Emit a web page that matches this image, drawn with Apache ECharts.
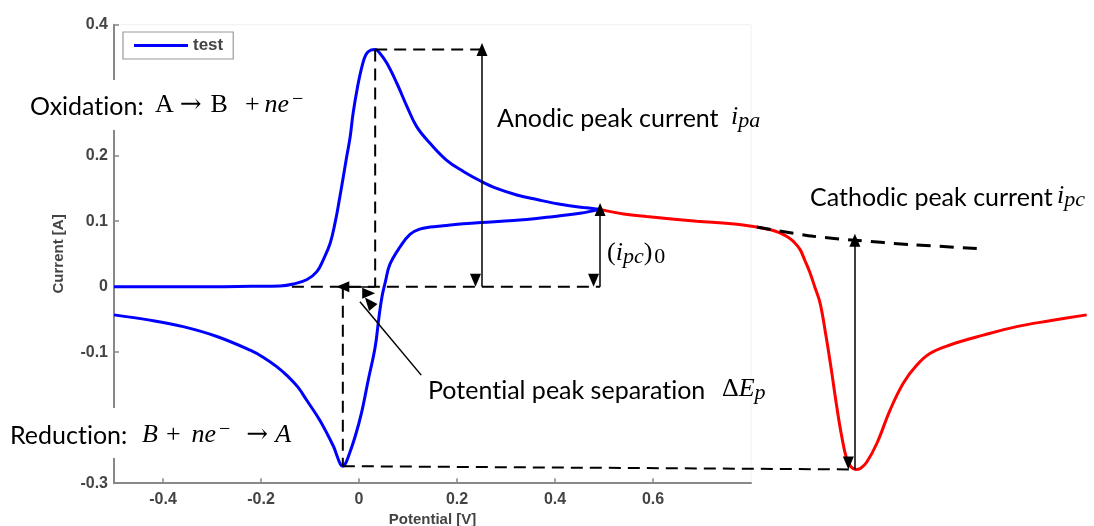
<!DOCTYPE html>
<html>
<head>
<meta charset="utf-8">
<script src="https://cdn.jsdelivr.net/npm/echarts@6/dist/echarts.min.js"></script>
<style>
  html, body { margin: 0; padding: 0; background: #ffffff; }
  #chart { width: 1094px; height: 526px; }
</style>
</head>
<body>
<div id="chart"></div>
<script>
// Cyclic voltammogram: potential [V] vs current [A]

// Oxidation sweep (negative -> positive potential)
const forwardScan = [
  [-0.5, 0], [-0.4, 0], [-0.3, 0], [-0.22, 0.0005], [-0.161, 0.001], [-0.134, 0.004],
  [-0.106, 0.011], [-0.086, 0.023], [-0.073, 0.041], [-0.059, 0.066], [-0.049, 0.097],
  [-0.04, 0.133], [-0.032, 0.168], [-0.025, 0.199], [-0.018, 0.229], [-0.012, 0.265],
  [-0.003, 0.305], [0.006, 0.336], [0.014, 0.354], [0.024, 0.361], [0.033, 0.362],
  [0.043, 0.356], [0.057, 0.341], [0.077, 0.311], [0.098, 0.275], [0.118, 0.244],
  [0.145, 0.219], [0.179, 0.193], [0.213, 0.176], [0.249, 0.161], [0.281, 0.15],
  [0.322, 0.14], [0.363, 0.133], [0.417, 0.125], [0.458, 0.121], [0.492, 0.118]
];

// Reduction sweep (back from the switching potential)
const reverseScan = [
  [0.492, 0.118], [0.451, 0.112], [0.383, 0.106], [0.315, 0.101], [0.249, 0.098],
  [0.213, 0.096], [0.172, 0.093], [0.145, 0.091], [0.124, 0.088], [0.104, 0.08],
  [0.084, 0.061], [0.063, 0.034], [0.054, 0.008], [0.047, -0.015], [0.041, -0.045],
  [0.033, -0.092], [0.019, -0.142], [0.005, -0.193], [-0.008, -0.229], [-0.022, -0.26],
  [-0.029, -0.272], [-0.033, -0.274], [-0.038, -0.271], [-0.045, -0.258], [-0.052, -0.244],
  [-0.08, -0.204], [-0.107, -0.173], [-0.125, -0.153], [-0.145, -0.137], [-0.168, -0.122],
  [-0.195, -0.108], [-0.222, -0.097], [-0.29, -0.076], [-0.359, -0.061], [-0.427, -0.051],
  [-0.5, -0.043]
];

// Sweep continued past the switching potential
const extendedScan = [
  [0.492, 0.118], [0.54, 0.111], [0.587, 0.107], [0.689, 0.1], [0.76, 0.096],
  [0.812, 0.091], [0.84, 0.087], [0.859, 0.082], [0.875, 0.076], [0.888, 0.068],
  [0.9, 0.057], [0.91, 0.04], [0.92, 0.022], [0.93, 0.0], [0.941, -0.025],
  [0.953, -0.075], [0.963, -0.122], [0.975, -0.183], [0.985, -0.228], [0.995, -0.262],
  [1.004, -0.275], [1.014, -0.279], [1.024, -0.277], [1.036, -0.268], [1.057, -0.239],
  [1.084, -0.188], [1.111, -0.147], [1.138, -0.12], [1.165, -0.102], [1.206, -0.089],
  [1.274, -0.074], [1.342, -0.061], [1.41, -0.052], [1.485, -0.043]
];

// Extrapolated decay of the anodic current (cathodic baseline)
const baselineFit = [
  [0.812, 0.091], [0.927, 0.077], [1.012, 0.071], [1.131, 0.064], [1.273, 0.058]
];

const xTickValues = [-0.4, -0.2, 0, 0.2, 0.4, 0.6];

// Dashed construction lines [from, to]
const guideSegments = [
  [[-0.137, 0], [0.492, 0]],
  [[0.033, 0.362], [0.253, 0.362]],
  [[0.033, 0.362], [0.033, 0]],
  [[-0.033, 0], [-0.033, -0.274]],
  [[-0.033, -0.274], [1.014, -0.279]]
];

// Double-headed measurement arrows [from, to]
const measureArrows = [
  [[0.251, 0.362], [0.251, 0]],
  [[0.492, 0.118], [0.492, 0]],
  [[1.012, 0.071], [1.012, -0.279]],
  [[-0.033, 0], [0.033, 0]]
];

// Pointer from the separation label [tail, tip]
const pointerArrow = [[0.127, -0.135], [0.002, -0.023]];

const axisFont = 'Liberation Sans';
const textFont = 'Lato';
const mathFont = 'Liberation Serif';
const arrowFont = 'DejaVu Serif';
const tri = 'path://M5,0 L10,14 L0,14 Z';

const base = { fontFamily: mathFont, fontSize: 26, lineHeight: 30, color: '#000' };
const mathRich = {
  r:     Object.assign({}, base),
  i:     Object.assign({}, base, { fontStyle: 'italic' }),
  arrA:  Object.assign({}, base, { fontFamily: arrowFont, padding: [0, 9, 0, 6] }),
  plusA: Object.assign({}, base, { padding: [0, 5, 0, 17] }),
  plusB: Object.assign({}, base, { padding: [0, 11, 0, 8] }),
  arrB:  Object.assign({}, base, { fontFamily: arrowFont, padding: [0, 7, 0, 16] }),
  sup:   { fontFamily: mathFont, fontSize: 20, lineHeight: 12, verticalAlign: 'top', color: '#000', padding: [0, 0, 0, 3] },
  sub:   { fontFamily: mathFont, fontSize: 22, fontStyle: 'italic', lineHeight: 17, verticalAlign: 'bottom', color: '#000' },
  subr:  { fontFamily: mathFont, fontSize: 22, lineHeight: 17, verticalAlign: 'bottom', color: '#000', padding: [0, 0, 0, 2] }
};

function plainText(x, y, text) {
  return {
    type: 'text', x: x, y: y, z: 100,
    style: {
      text: text, fontFamily: textFont, fontSize: 25, fill: '#000',
      align: 'left', verticalAlign: 'middle'
    }
  };
}
function mathText(x, y, text) {
  return {
    type: 'text', x: x, y: y, z: 100,
    style: { text: text, rich: mathRich, align: 'left', verticalAlign: 'middle', fill: '#000' }
  };
}
// White panel behind a reaction label, masking the axis underneath
function labelPanel(x, y, w, h) {
  return { type: 'rect', z: 99, shape: { x: x, y: y, width: w, height: h }, style: { fill: '#ffffff' } };
}

const tickFmt = v => {
  const r = Math.round(v * 10) / 10;
  return r === 0 ? '0' : String(r);
};

const axisLabelStyle = { fontFamily: axisFont, fontSize: 16, fontWeight: 'bold', color: '#444' };

const guideSeries = guideSegments.map((seg, k) => ({
  name: 'guide' + k, type: 'line', xAxisIndex: 1, yAxisIndex: 1,
  data: seg, symbol: 'none', silent: true, clip: false, z: 4,
  lineStyle: { color: '#000', width: 2, type: [12, 7] }
}));

const scanLine = (name, data, color, z) => ({
  name: name, type: 'line', xAxisIndex: 1, yAxisIndex: 1, data: data,
  symbol: 'none', smooth: 0.4, clip: false, z: z,
  lineStyle: { color: color, width: 3 }, itemStyle: { color: color }
});

const option = {
  animation: false,
  backgroundColor: '#ffffff',
  grid: [
    { left: 114, top: 24.7, width: 637, height: 458.5, show: true, borderColor: '#f0f0f0',
      borderWidth: 1, backgroundColor: 'transparent', outerBoundsMode: 'none', containLabel: false },
    { left: 114, top: 24.7, width: 980, height: 458.5, outerBoundsMode: 'none', containLabel: false }
  ],
  xAxis: [
    {
      gridIndex: 0, type: 'value', min: -0.5, max: 0.8,
      name: 'Potential [V]', nameLocation: 'middle', nameGap: 26,
      nameTextStyle: { fontFamily: axisFont, fontSize: 15, fontWeight: 'bold', color: '#444' },
      axisLine: { show: true, onZero: false, lineStyle: { color: '#888', width: 2 } },
      axisTick: { show: true, inside: true, length: 5, customValues: xTickValues, lineStyle: { color: '#888', width: 1.5 } },
      axisLabel: Object.assign({ customValues: xTickValues, margin: 8, formatter: tickFmt }, axisLabelStyle),
      splitLine: { show: false }
    },
    { gridIndex: 1, type: 'value', min: -0.5, max: 1.5, show: false, splitLine: { show: false } }
  ],
  yAxis: [
    {
      gridIndex: 0, type: 'value', min: -0.3, max: 0.4, interval: 0.1,
      name: 'Current [A]', nameLocation: 'middle', nameGap: 48, nameRotate: 90,
      nameTextStyle: { fontFamily: axisFont, fontSize: 15, fontWeight: 'bold', color: '#444' },
      axisLine: { show: true, onZero: false, lineStyle: { color: '#888', width: 2 } },
      axisTick: { show: true, inside: true, length: 5, lineStyle: { color: '#888', width: 1.5 } },
      axisLabel: Object.assign({ margin: 6, formatter: tickFmt, showMinLabel: true, showMaxLabel: true }, axisLabelStyle),
      splitLine: { show: false }
    },
    { gridIndex: 1, type: 'value', min: -0.3, max: 0.4, show: false, splitLine: { show: false } }
  ],
  legend: {
    data: [{ name: 'test', icon: 'rect' }],
    left: 123, top: 32, itemWidth: 54, itemHeight: 3, itemGap: 6,
    padding: [5, 10, 5, 11], borderColor: '#9a9a9a', borderWidth: 1.2, borderRadius: 0,
    backgroundColor: '#fff', selectedMode: false,
    textStyle: { fontFamily: axisFont, fontSize: 17, fontWeight: 'bold', color: '#444' }
  },
  series: [
    scanLine('test', forwardScan, '#0000ff', 3),
    scanLine('test', reverseScan, '#0000ff', 3),
    scanLine('extended', extendedScan, '#ff0000', 3),
    {
      name: 'baseline', type: 'line', xAxisIndex: 1, yAxisIndex: 1, data: baselineFit,
      symbol: 'none', smooth: 0.3, clip: false, z: 5,
      lineStyle: { color: '#000', width: 3, type: [14, 9] }
    },
    ...guideSeries,
    {
      name: 'arrows', type: 'line', xAxisIndex: 1, yAxisIndex: 1, data: [],
      symbol: 'none', silent: true, z: 6,
      markLine: {
        silent: true, animation: false,
        symbol: [tri, tri], symbolSize: [11, 13], symbolOffset: [0, 6.5],
        label: { show: false },
        emphasis: { disabled: true },
        lineStyle: { color: '#000', width: 1.5, type: 'solid' },
        itemStyle: { color: '#000' },
        data: measureArrows.map(a => [{ coord: a[0] }, { coord: a[1] }]).concat([
          [{ coord: pointerArrow[0], symbol: 'none' }, { coord: pointerArrow[1], symbol: tri }]
        ])
      }
    }
  ],
  graphic: [
    labelPanel(22, 80, 128, 50),
    plainText(30, 107, 'Oxidat\u200Cion:'),
    mathText(155, 105, '{r|A}{arrA|→}{r|B}{plusA|+}{i|ne}{sup|−}'),
    labelPanel(2, 408, 130, 50),
    plainText(10, 436, 'Reduct\u200Cion:'),
    mathText(142, 435, '{i|B}{plusB|+}{i|ne}{sup|−}{arrB|→}{i|A}'),
    plainText(497, 119, 'Anodic peak current'),
    mathText(731, 117, '{i|i}{sub|pa}'),
    mathText(607, 253, '{r|(}{i|i}{sub|pc}{r|)}{subr|0}'),
    plainText(810, 198, 'Cathodic peak current'),
    mathText(1057, 196, '{i|i}{sub|pc}'),
    plainText(428, 391, 'Potent\u200Cial peak separat\u200Cion'),
    mathText(722, 389, '{r|Δ}{i|E}{sub|p}')
  ]
};

const chart = echarts.init(document.getElementById('chart'), null, { renderer: 'canvas' });
chart.setOption(option);
</script>
</body>
</html>
